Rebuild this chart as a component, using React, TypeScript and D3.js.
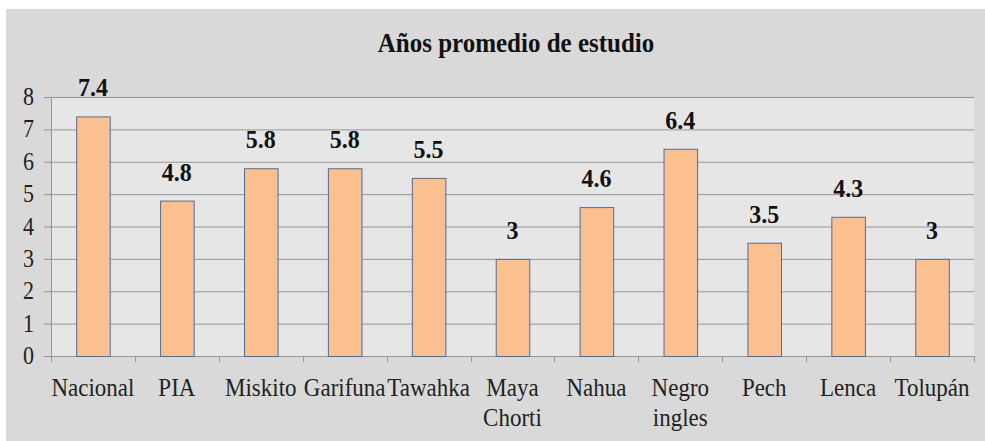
import * as d3 from "d3";
import { useEffect, useRef } from "react";

// categories (a "\n" breaks the axis label onto two lines)
const categories = [
  "Nacional",
  "PIA",
  "Miskito",
  "Garifuna",
  "Tawahka",
  "Maya\nChorti",
  "Nahua",
  "Negro\ningles",
  "Pech",
  "Lenca",
  "Tolupán",
];
const values = [7.4, 4.8, 5.8, 5.8, 5.5, 3, 4.6, 6.4, 3.5, 4.3, 3];
const yTicks = [0, 1, 2, 3, 4, 5, 6, 7, 8];
const title = "Años promedio de estudio";

const App = () => {
  const ref: any = useRef();

  useEffect(() => {
    const width = 985,
      height = 441;
    const font = "'Liberation Serif', 'Times New Roman', serif";
    const sy = 1.12; // the picture is a bit stretched vertically

    if (ref?.current) ref.current.innerHTML = "";

    const svg = d3
      .select(ref.current)
      .attr("width", width)
      .attr("height", height)
      .attr("viewBox", [0, 0, width, height]);

    // backgrounds
    svg.append("rect").attr("width", width).attr("height", height).attr("fill", "#fff");
    svg.append("rect")
      .attr("x", 6).attr("y", 9)
      .attr("width", width - 6).attr("height", height - 9)
      .attr("fill", "#d9d9d9");

    const x = d3.scaleBand().domain(categories).range([51, 974]).paddingInner(0.6).paddingOuter(0.3);
    const y = d3.scaleLinear().domain([0, 8]).range([356, 97]);

    svg.append("rect")
      .attr("x", 51).attr("y", y(8))
      .attr("width", 974 - 51).attr("height", y(0) - y(8))
      .attr("fill", "#e6e6e6");

    // gridlines + y ticks
    svg.append("g")
      .selectAll("line")
      .data(yTicks)
      .join("line")
      .attr("x1", 44).attr("x2", 974)
      .attr("y1", (d) => y(d) + 0.5).attr("y2", (d) => y(d) + 0.5)
      .attr("stroke", "#969696")
      .attr("stroke-width", 1);

    svg.append("line")
      .attr("x1", 51.5).attr("x2", 51.5)
      .attr("y1", y(8)).attr("y2", y(0))
      .attr("stroke", "#969696");

    svg.append("g")
      .selectAll("text")
      .data(yTicks)
      .join("text")
      .attr("transform", (d) => `translate(34,${y(d) + 8}) scale(1,${sy})`)
      .attr("text-anchor", "end")
      .attr("font-family", font)
      .attr("font-size", 22)
      .attr("fill", "#222")
      .text((d) => d);

    // x tick marks at band boundaries
    const step = x.step();
    svg.append("g")
      .selectAll("line")
      .data(d3.range(categories.length + 1))
      .join("line")
      .attr("x1", (i) => Math.round(51 + i * step) + 0.5)
      .attr("x2", (i) => Math.round(51 + i * step) + 0.5)
      .attr("y1", y(0)).attr("y2", y(0) + 6)
      .attr("stroke", "#969696");

    // bars
    svg.append("g")
      .selectAll("rect")
      .data(values)
      .join("rect")
      .attr("x", (_, i) => (x(categories[i]) as number) + 0.5)
      .attr("y", (d) => y(d) + 0.5)
      .attr("width", x.bandwidth())
      .attr("height", (d) => y(0) - y(d))
      .attr("fill", "#fac090")
      .attr("stroke", "#4d6e9e")
      .attr("stroke-width", 1);

    // data labels
    svg.append("g")
      .selectAll("text")
      .data(values)
      .join("text")
      .attr("transform", (d, i) =>
        `translate(${(x(categories[i]) as number) + x.bandwidth() / 2},${y(d) - 20}) scale(1,1.07)`)
      .attr("text-anchor", "middle")
      .attr("font-family", font)
      .attr("font-weight", "bold")
      .attr("font-size", 24)
      .attr("fill", "#111")
      .text((d) => d);

    // category labels
    const lab = svg.append("g")
      .selectAll("g")
      .data(categories)
      .join("g")
      .attr("transform", (d) => `translate(${(x(d) as number) + x.bandwidth() / 2},0)`);
    lab.each(function (d) {
      d.split("\n").forEach((line, k) => {
        d3.select(this)
          .append("text")
          .attr("transform", `translate(0,${396 + k * 30}) scale(1,${sy})`)
          .attr("text-anchor", "middle")
          .attr("font-family", font)
          .attr("font-size", 23)
          .attr("fill", "#222")
          .text(line);
      });
    });

    // title
    svg.append("text")
      .attr("transform", `translate(516,52) scale(1,${sy})`)
      .attr("text-anchor", "middle")
      .attr("font-family", font)
      .attr("font-weight", "bold")
      .attr("font-size", 25)
      .attr("fill", "#111")
      .text(title);
  }, []);

  return <svg ref={ref} style={{ position: "absolute", left: 0, top: 0, display: "block" }} />;
};

export default App;
